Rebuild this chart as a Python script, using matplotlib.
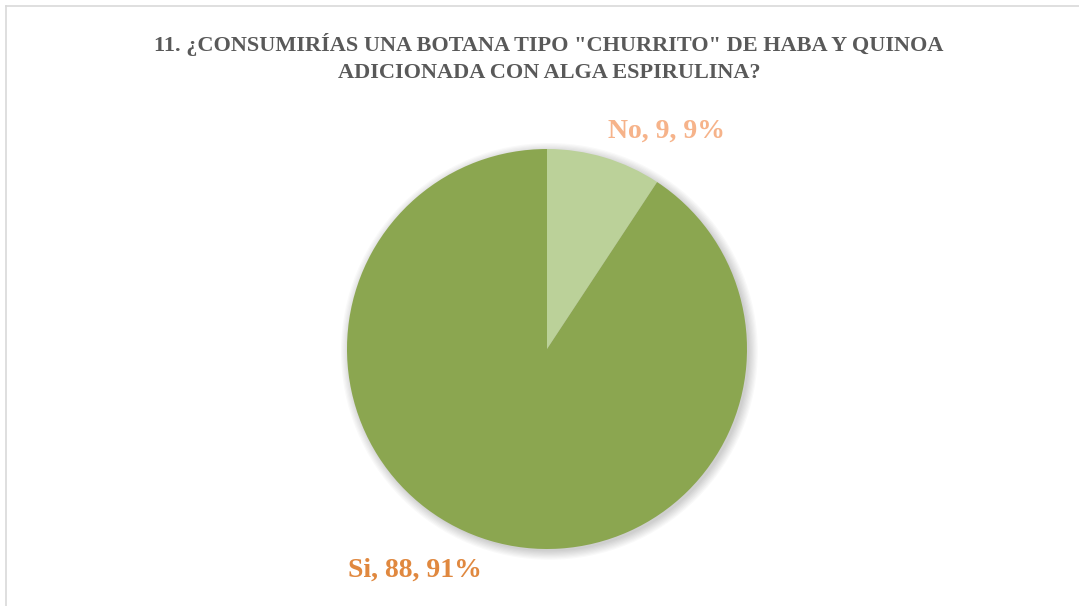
import numpy as np
import matplotlib
matplotlib.use('Agg')
from matplotlib import pyplot as plt
import matplotlib.patches as mpatches

# data
categorias = ['No', 'Si']
valores = [9, 88]
colores = ['#BBD199', '#8BA650']
colores_txt = ['#F6B38A', '#E0883F']

titulo = '11. ¿CONSUMIRÍAS UNA BOTANA TIPO "CHURRITO" DE HABA Y QUINOA\nADICIONADA CON ALGA ESPIRULINA?'

W, H = 1079, 606
fig = plt.figure(figsize=(W/100, H/100), dpi=100)
fig.patch.set_facecolor('white')

# chart border (only top/left visible in the crop)
fig.add_artist(plt.Line2D([6/W, 1], [1-6/H, 1-6/H], color='#D9D9D9', lw=1.2))
fig.add_artist(plt.Line2D([6/W, 6/W], [0, 1-6/H], color='#D9D9D9', lw=1.2))

fig.text(549/W, 1-58/H, titulo, ha='center', va='center', fontsize=16,
         fontweight='bold', color='#595959', family='Liberation Serif',
         linespacing=1.45)

# pie area: centre (547,349), radius 200 px
cx, cy, r = 547, 349, 200
ax = fig.add_axes([(cx-r)/W, (H-cy-r)/H, 2*r/W, 2*r/H])

# soft shadow
for i in range(8):
    ax.add_patch(mpatches.Circle((0.012, -0.012), 1.0 + 0.006*i, color='black',
                                 alpha=0.025, lw=0, zorder=0, clip_on=False))

total = sum(valores)
wedges, _ = ax.pie(valores, colors=colores, startangle=90, counterclock=False,
                   radius=1, wedgeprops=dict(linewidth=0))
for w in wedges:
    w.set_zorder(2)
ax.set_xlim(-1, 1)
ax.set_ylim(-1, 1)
ax.axis('off')

etiquetas = ['%s, %d, %d%%' % (c, v, round(100.0*v/total)) for c, v in zip(categorias, valores)]
posiciones = [(667, 131), (415, 570)]
for txt, (px, py), col in zip(etiquetas, posiciones, colores_txt):
    fig.text(px/W, 1-py/H, txt, ha='center', va='center', fontsize=20,
             fontweight='bold', color=col, family='Liberation Serif')

plt.savefig('out.png', dpi=100)
